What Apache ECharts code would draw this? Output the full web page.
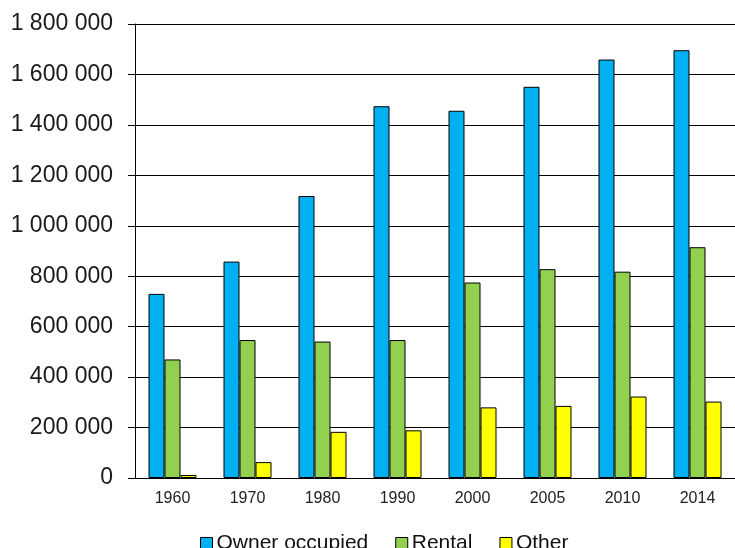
<!DOCTYPE html>
<html>
<head>
<meta charset="utf-8">
<script src="https://cdn.jsdelivr.net/npm/echarts@6/dist/echarts.min.js"></script>
<style>
  html, body { margin: 0; padding: 0; background: #fff; }
  #chart { width: 735px; height: 548px; }
</style>
</head>
<body>
<div id="chart"></div>
<script>
const years = ["1960", "1970", "1980", "1990", "2000", "2005", "2010", "2014"];
const ownerOccupied = [730000, 858000, 1118000, 1474000, 1456000, 1551000, 1659000, 1696000];
const rental = [470000, 547000, 541000, 547000, 775000, 828000, 818000, 915000];
const other = [12000, 63000, 183000, 189000, 280000, 286000, 323000, 303000];

// thousands with a space, e.g. 1 800 000
const fmt = (v) => String(v).replace(/\B(?=(\d{3})+(?!\d))/g, " ");

const chart = echarts.init(document.getElementById("chart"));

const barSeries = (name, data, color) => ({
    name: name,
    type: "bar",
    data: data,
    barGap: "0%",
    barCategoryGap: "36%",
    itemStyle: { color: color, borderColor: "#000", borderWidth: 1 },
});

chart.setOption({
    animation: false,
    textStyle: { fontFamily: "Liberation Sans, Arial, sans-serif" },
    grid: { left: 135, top: 24, width: 603, height: 454, containLabel: false },
    legend: {
        left: 195,
        top: 528,
        itemWidth: 12,
        itemHeight: 12,
        itemGap: 27,
        icon: "rect",
        textStyle: { fontSize: 21, color: "#111", padding: [0, 0, 0, -1] },
        itemStyle: { borderColor: "#000", borderWidth: 1 },
        data: ["Owner occupied", "Rental", "Other"],
    },
    xAxis: {
        type: "category",
        data: years,
        axisLine: { lineStyle: { color: "#000", width: 1 } },
        axisTick: { length: 5, lineStyle: { color: "#000" } },
        axisLabel: { fontSize: 16, color: "#222", margin: 13 },
    },
    yAxis: {
        type: "value",
        min: 0,
        max: 1800000,
        interval: 200000,
        axisLine: { show: true, lineStyle: { color: "#000", width: 1 } },
        axisTick: { show: true, length: 7, lineStyle: { color: "#000" } },
        axisLabel: { fontSize: 23, color: "#1a1a1a", margin: 22, formatter: fmt },
        splitLine: { lineStyle: { color: "#000", width: 1 } },
    },
    series: [
        barSeries("Owner occupied", ownerOccupied, "#00B0F0"),
        barSeries("Rental", rental, "#92D050"),
        barSeries("Other", other, "#FFFF00"),
    ],
});
</script>
</body>
</html>
